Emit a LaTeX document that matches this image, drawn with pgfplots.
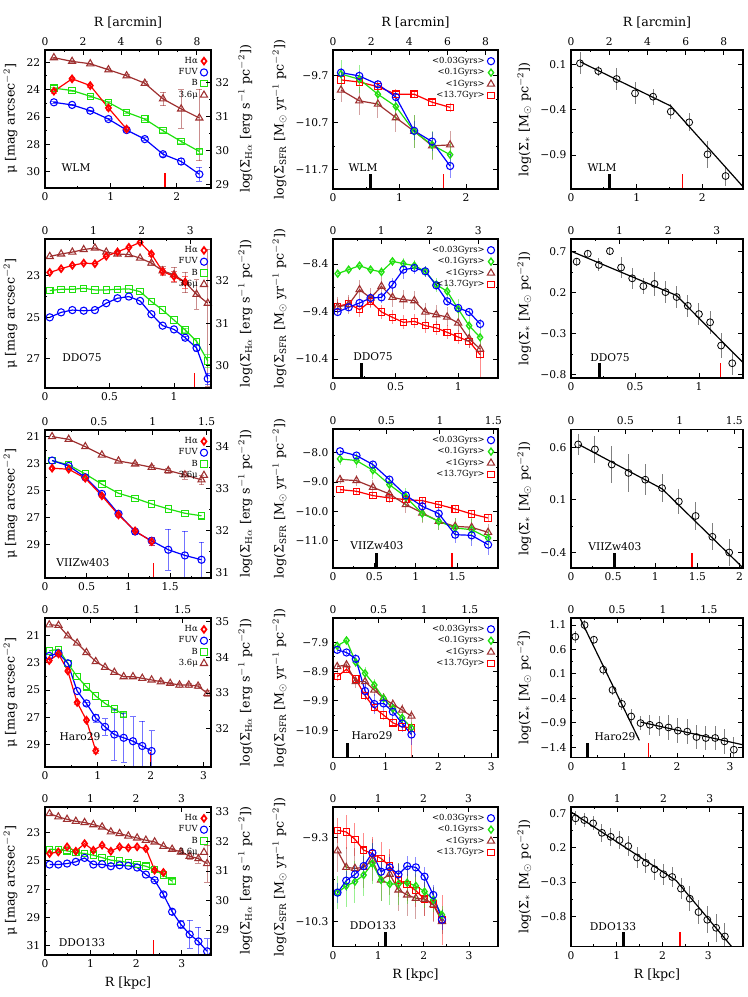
\documentclass[border=0pt]{standalone}
\usepackage{fontspec}
\setmainfont{DejaVu Serif}
\usepackage{pgfplots}
\pgfplotsset{compat=1.18}

\definecolor{cbrown}{rgb}{0.62,0.19,0.19}
\definecolor{cgreen}{rgb}{0.12,0.88,0.05}
\definecolor{cblue}{rgb}{0,0,1}
\definecolor{cred}{rgb}{1,0,0}

\pgfplotsset{
  legend image code/.code={\draw[#1] plot[only marks] coordinates {(0.1cm,0cm)};},
  base/.style={scale only axis, anchor=south west,
    font=\fontsize{8}{9}\selectfont,
    axis line style={line width=1pt},
    every tick/.style={black, line width=0.7pt},
    major tick length=3.5pt, minor tick length=1.8pt, minor tick num=1,
    label style={font=\fontsize{9.5}{11}\selectfont},
    /pgf/number format/assume math mode=true,
    /pgf/number format/fixed},
  dat/.style={base, xtick pos=left, ytick pos=both, yticklabel pos=left},
  mu/.style={base, y dir=reverse, xtick=\empty, ytick pos=left},
  ha/.style={base, xtick pos=left, ytick pos=right, yticklabel pos=right},
  arc/.style={base, xtick pos=right, xticklabel pos=right, ytick=\empty, ymin=0, ymax=1},
  leg/.style={legend style={at={(0.985,0.975)}, anchor=north east, draw=none, fill=none,
      font=\fontsize{6.3}{7}\selectfont, row sep=-1.6pt, inner sep=0.5pt},
      legend cell align=right, legend plot pos=right, reverse legend},
  eb/.style={error bars/.cd, y dir=both, y explicit,
      error bar style={line width=0.7pt, opacity=0.55},
      error mark options={rotate=90, mark size=2.2pt}},
  eb2/.style={error bars/.cd, y dir=both, y explicit,
      error bar style={line width=0.7pt, opacity=0.45}, error mark=none},
  sbr/.style={cbrown, line width=0.9pt, mark=triangle, mark size=3.1pt, mark options={solid, line width=0.8pt}},
  sgr/.style={cgreen, line width=0.9pt, mark=square, mark size=2.4pt, mark options={solid, line width=0.8pt}},
  sbl/.style={cblue, line width=0.9pt, mark=o, mark size=2.7pt, mark options={solid, line width=0.8pt}},
  srd/.style={cred, line width=0.9pt, mark=diamond, mark size=2.5pt, mark options={solid, line width=1.3pt}},
  sgd/.style={cgreen, line width=0.9pt, mark=diamond, mark size=2.6pt, mark options={solid, line width=1pt}},
  srs/.style={cred, line width=0.9pt, mark=square, mark size=2.4pt, mark options={solid, line width=0.8pt}},
  st/.style={black, only marks, mark=o, mark size=2.6pt, mark options={line width=0.6pt},
      error bars/.cd, y dir=both, y explicit, error bar style={gray, line width=0.7pt}, error mark=none},
  fit/.style={black, line width=0.9pt, mark=none},
}
\newcommand{\rtick}[2]{\draw[cred, line width=1pt] (axis cs:#1,#2) -- ++(0pt,11pt);}
\newcommand{\btick}[2]{\draw[black, line width=2.2pt] (axis cs:#1,#2) -- ++(0pt,11pt);}

\begin{document}
\begin{tikzpicture}
\useasboundingbox (0,0) rectangle (560.25pt,747.75pt);

% ================= Row 1: WLM =================
\begin{axis}[mu, leg, at={(33.75pt,606.75pt)}, width=124.5pt, height=103.5pt,
  xmin=0, xmax=2.52, ymin=21.12, ymax=31.17, ytick={22,24,26,28,30},
  ylabel={μ [mag arcsec$^{-2}$]}]
\addplot[sbr, eb] coordinates {(0.135,21.68)+-(0,0.05) (0.411,21.95)+-(0,0.05) (0.687,22.12)+-(0,0.06) (0.963,22.56)+-(0,0.08) (1.239,23.00)+-(0,0.1) (1.515,23.54)+-(0,0.12) (1.791,24.68)+-(0,0.5) (2.067,25.41)+-(0,1.4) (2.343,26.07) += (0,3.1) -= (0,2.1)};
\addlegendentry{3.6μ}
\addplot[sgr, eb] coordinates {(0.135,23.90)+-(0,0.05) (0.411,24.07)+-(0,0.05) (0.687,24.49)+-(0,0.05) (0.963,24.93)+-(0,0.05) (1.239,25.66)+-(0,0.06) (1.515,26.15)+-(0,0.07) (1.791,27.00)+-(0,0.08) (2.067,27.78)+-(0,0.1) (2.343,28.51)+-(0,0.15)};
\addlegendentry{B}
\addplot[sbl, eb] coordinates {(0.135,24.93)+-(0,0.05) (0.411,25.12)+-(0,0.05) (0.687,25.54)+-(0,0.05) (0.963,26.15)+-(0,0.06) (1.239,26.95)+-(0,0.08) (1.515,27.61)+-(0,0.1) (1.791,28.71)+-(0,0.15) (2.067,29.24)+-(0,0.2) (2.343,30.17)+-(0,0.5)};
\addlegendentry{FUV}
\addplot[srd, eb] coordinates {(0.135,24.12)+-(0,0.15) (0.411,23.22)+-(0,0.1) (0.687,23.71)+-(0,0.1) (0.963,25.34)+-(0,0.15) (1.239,26.88)+-(0,0.15)};
\addlegendentry{Hα}
\rtick{1.82}{31.17}
\end{axis}
\begin{axis}[ha, at={(33.75pt,606.75pt)}, width=124.5pt, height=103.5pt,
  xmin=0, xmax=2.52, ymin=28.91, ymax=32.97, xtick={0,1,2}, ytick={29,30,31,32},
  ylabel={log(Σ$_{\rm H\alpha}$ [erg s$^{-1}$ pc$^{-2}$])}]
\end{axis}
\begin{axis}[arc, at={(33.75pt,606.75pt)}, width=124.5pt, height=103.5pt,
  xmin=0, xmax=8.74, xtick={0,2,4,6,8}, xlabel={R [arcmin]}]
\end{axis}

\begin{axis}[dat, leg, at={(249.75pt,606pt)}, width=123.75pt, height=104.25pt,
  xmin=0, xmax=2.48, ymin=-12.11, ymax=-9.147, xtick={0,1,2},
  ytick={-11.7,-10.7,-9.7}, yticklabels={−11.7,−10.7,−9.7},
  ylabel={log(Σ$_{\rm SFR}$ [M$_\odot$ yr$^{-1}$ pc$^{-2}$])}]
\addplot[srs, eb2] coordinates {(0.12,-9.785)+-(0,0.1) (0.395,-9.83)+-(0,0.08) (0.675,-9.93)+-(0,0.1) (0.945,-10.09)+-(0,0.12) (1.22,-10.09)+-(0,0.08) (1.49,-10.26)+-(0,0.08) (1.76,-10.37)+-(0,0.1)};
\addlegendentry{<13.7Gyr>}
\addplot[sbr, eb2] coordinates {(0.12,-10.00)+-(0,0.25) (0.395,-10.23)+-(0,0.3) (0.675,-10.30)+-(0,0.3) (0.945,-10.59)+-(0,0.3) (1.22,-10.88)+-(0,0.35) (1.49,-11.19)+-(0,0.3) (1.76,-11.17)+-(0,0.3)};
\addlegendentry{<1Gyrs>}
\addplot[sgd, eb2] coordinates {(0.12,-9.66)+-(0,0.3) (0.395,-9.77)+-(0,0.3) (0.675,-10.09)+-(0,0.25) (0.945,-10.35)+-(0,0.3) (1.22,-10.88)+-(0,0.35) (1.49,-11.17)+-(0,0.3) (1.76,-11.38)+-(0,0.25)};
\addlegendentry{<0.1Gyrs>}
\addplot[sbl, eb2] coordinates {(0.12,-9.63)+-(0,0.1) (0.395,-9.70)+-(0,0.1) (0.675,-9.88)+-(0,0.1) (0.945,-10.15)+-(0,0.15) (1.22,-10.87)+-(0,0.2) (1.49,-11.10)+-(0,0.2) (1.76,-11.62)+-(0,0.25)};
\addlegendentry{<0.03Gyrs>}
\btick{0.56}{-12.11}
\rtick{1.66}{-12.11}
\end{axis}
\begin{axis}[arc, at={(249.75pt,606pt)}, width=123.75pt, height=104.25pt,
  xmin=0, xmax=8.65, xtick={0,2,4,6,8}, xlabel={R [arcmin]}]
\end{axis}

\begin{axis}[dat, at={(428.25pt,606pt)}, width=129pt, height=104.25pt,
  xmin=0, xmax=2.62, ymin=-1.275, ymax=0.258, xtick={0,1,2},
  ytick={-0.9,-0.4,0.1}, yticklabels={−0.9,−0.4,0.1},
  ylabel={log(Σ$_*$ [M$_\odot$ pc$^{-2}$])}]
\addplot[st] coordinates {(0.137,0.111)+-(0,0.12) (0.416,0.026)+-(0,0.06) (0.695,-0.062)+-(0,0.12) (0.975,-0.22)+-(0,0.12) (1.25,-0.257)+-(0,0.09) (1.52,-0.422)+-(0,0.08) (1.80,-0.54)+-(0,0.1) (2.08,-0.893)+-(0,0.15) (2.355,-1.132)+-(0,0.11)};
\addplot[fit] coordinates {(0.137,0.129) (1.52,-0.36) (2.62,-1.25)};
\btick{0.58}{-1.275}
\rtick{1.70}{-1.275}
\end{axis}
\begin{axis}[arc, at={(428.25pt,606pt)}, width=129pt, height=104.25pt,
  xmin=0, xmax=9.0, xtick={0,2,4,6,8}, xlabel={R [arcmin]}]
\end{axis}

% ================= Row 2: DDO075 =================
\begin{axis}[mu, leg, at={(33.75pt,456.75pt)}, width=124.5pt, height=111.75pt,
  xmin=0, xmax=1.287, ymin=21.23, ymax=28.4, ytick={23,25,27},
  ylabel={μ [mag arcsec$^{-2}$]}]
\addplot[sbr, eb] coordinates {(0.037,22.07) (0.125,21.95) (0.212,21.86) (0.300,21.74) (0.387,21.66) (0.475,21.86) (0.562,21.95) (0.650,21.98) (0.737,22.15) (0.825,22.39)+-(0,0.1) (0.912,22.76)+-(0,0.2) (1.000,22.95)+-(0,0.35) (1.087,23.31)+-(0,0.5) (1.175,23.89)+-(0,0.7) (1.262,24.32) += (0,4) -= (0,2.6)};
\addlegendentry{3.6μ}
\addplot[sgr, eb] coordinates {(0.037,23.71) (0.125,23.65) (0.212,23.65) (0.300,23.60) (0.387,23.68) (0.475,23.68) (0.562,23.65) (0.650,23.63) (0.737,23.76) (0.825,24.24) (0.912,24.65) (1.000,25.13) (1.087,25.61)+-(0,0.1) (1.175,26.15)+-(0,0.15) (1.262,27.10)+-(0,0.3)};
\addlegendentry{B}
\addplot[sbl, eb] coordinates {(0.037,25.00) (0.125,24.76) (0.212,24.65) (0.300,24.68) (0.387,24.65) (0.475,24.32) (0.562,24.08) (0.650,24.00) (0.737,24.21) (0.825,24.85) (0.912,25.40) (1.000,25.58) (1.087,25.98)+-(0,0.08) (1.175,26.47)+-(0,0.15) (1.262,27.95)+-(0,0.25)};
\addlegendentry{FUV}
\addplot[srd, eb] coordinates {(0.037,22.84) (0.125,22.66) (0.212,22.50) (0.300,22.39) (0.387,22.42) (0.475,22.06) (0.562,21.85) (0.650,21.63) (0.737,21.39) (0.825,21.95)+-(0,0.1) (0.912,22.79)+-(0,0.15) (1.000,23.03)+-(0,0.25) (1.087,23.31)+-(0,0.3)};
\addlegendentry{Hα}
\rtick{1.158}{28.4}
\end{axis}
\begin{axis}[ha, at={(33.75pt,456.75pt)}, width=124.5pt, height=111.75pt,
  xmin=0, xmax=1.287, ymin=29.48, ymax=32.98, xtick={0,0.5,1}, ytick={30,31,32},
  ylabel={log(Σ$_{\rm H\alpha}$ [erg s$^{-1}$ pc$^{-2}$])}]
\end{axis}
\begin{axis}[arc, at={(33.75pt,456.75pt)}, width=124.5pt, height=111.75pt,
  xmin=0, xmax=3.43, xtick={0,1,2,3}]
\end{axis}

\begin{axis}[dat, leg, at={(249.75pt,464.25pt)}, width=123.75pt, height=104.25pt,
  xmin=0, xmax=1.318, ymin=-10.8, ymax=-7.874, xtick={0,0.5,1},
  ytick={-10.4,-9.4,-8.4}, yticklabels={−10.4,−9.4,−8.4},
  ylabel={log(Σ$_{\rm SFR}$ [M$_\odot$ yr$^{-1}$ pc$^{-2}$])}]
\addplot[srs, eb2] coordinates {(0.037,-9.291)+-(0,0.15) (0.125,-9.235)+-(0,0.15) (0.212,-9.361)+-(0,0.15) (0.300,-9.186)+-(0,0.15) (0.387,-9.411)+-(0,0.15) (0.475,-9.523)+-(0,0.15) (0.562,-9.628)+-(0,0.15) (0.650,-9.607)+-(0,0.15) (0.737,-9.698)+-(0,0.15) (0.825,-9.747)+-(0,0.15) (0.912,-9.839)+-(0,0.15) (1.000,-9.937)+-(0,0.15) (1.087,-10.028)+-(0,0.15) (1.175,-10.309) += (0,0.15) -= (0,0.5)};
\addlegendentry{<13.7Gyr>}
\addplot[sbr, eb2] coordinates {(0.037,-9.305)+-(0,0.2) (0.125,-9.256)+-(0,0.2) (0.212,-8.94)+-(0,0.2) (0.300,-9.116)+-(0,0.2) (0.387,-8.87)+-(0,0.2) (0.475,-9.102)+-(0,0.2) (0.562,-9.151)+-(0,0.2) (0.650,-9.172)+-(0,0.2) (0.737,-9.411)+-(0,0.2) (0.825,-9.467)+-(0,0.2) (0.912,-9.516)+-(0,0.2) (1.000,-9.642)+-(0,0.2) (1.087,-9.972)+-(0,0.2) (1.175,-10.19)+-(0,0.2)};
\addlegendentry{<1Gyrs>}
\addplot[sgd, eb2] coordinates {(0.037,-8.604)+-(0,0.05) (0.125,-8.519)+-(0,0.05) (0.212,-8.435)+-(0,0.05) (0.300,-8.519)+-(0,0.08) (0.387,-8.568)+-(0,0.1) (0.475,-8.344)+-(0,0.1) (0.562,-8.393)+-(0,0.12) (0.650,-8.435)+-(0,0.12) (0.737,-8.554)+-(0,0.12) (0.825,-8.835)+-(0,0.15) (0.912,-8.975)+-(0,0.15) (1.000,-9.347)+-(0,0.2) (1.087,-9.698)+-(0,0.2) (1.175,-9.944)+-(0,0.2)};
\addlegendentry{<0.1Gyrs>}
\addplot[sbl, eb2] coordinates {(0.037,-9.411)+-(0,0.05) (0.125,-9.312)+-(0,0.05) (0.212,-9.221)+-(0,0.08) (0.300,-9.116)+-(0,0.1) (0.387,-9.102)+-(0,0.12) (0.475,-8.835)+-(0,0.15) (0.562,-8.519)+-(0,0.2) (0.650,-8.484)+-(0,0.12) (0.737,-8.554)+-(0,0.12) (0.825,-8.849)+-(0,0.1) (0.912,-9.186)+-(0,0.1) (1.000,-9.326)+-(0,0.08) (1.087,-9.411)+-(0,0.08) (1.175,-9.663)+-(0,0.1)};
\addlegendentry{<0.03Gyrs>}
\btick{0.225}{-10.8}
\end{axis}
\begin{axis}[arc, at={(249.75pt,464.25pt)}, width=123.75pt, height=104.25pt,
  xmin=0, xmax=3.41, xtick={0,1,2,3}]
\end{axis}

\begin{axis}[dat, at={(428.25pt,464.25pt)}, width=129pt, height=104.25pt,
  xmin=0, xmax=1.343, ymin=-0.84, ymax=0.856, xtick={0,0.5,1},
  ytick={-0.8,-0.3,0.2,0.7}, yticklabels={−0.8,−0.3,0.2,0.7},
  ylabel={log(Σ$_*$ [M$_\odot$ pc$^{-2}$])}]
\addplot[st] coordinates {(0.044,0.58)+-(0,0.05) (0.131,0.676)+-(0,0.03) (0.218,0.54)+-(0,0.08) (0.304,0.708)+-(0,0.05) (0.391,0.508)+-(0,0.13) (0.478,0.376)+-(0,0.13) (0.565,0.28)+-(0,0.1) (0.652,0.308)+-(0,0.15) (0.738,0.208)+-(0,0.13) (0.825,0.148)+-(0,0.13) (0.912,0.04)+-(0,0.13) (0.999,-0.06)+-(0,0.13) (1.086,-0.16)+-(0,0.14) (1.172,-0.444)+-(0,0.15) (1.259,-0.66)+-(0,0.14)};
\addplot[fit] coordinates {(0,0.708) (0.823,0.168) (1.343,-0.652)};
\btick{0.226}{-0.84}
\rtick{1.169}{-0.84}
\end{axis}
\begin{axis}[arc, at={(428.25pt,464.25pt)}, width=129pt, height=104.25pt,
  xmin=0, xmax=3.54, xtick={0,1,2,3}]
\end{axis}

% ================= Row 3: VIIZw403 =================
\begin{axis}[mu, leg, at={(33.75pt,314.25pt)}, width=124.5pt, height=111pt,
  xmin=0, xmax=1.99, ymin=20.51, ymax=31.46, ytick={21,23,25,27,29},
  ylabel={μ [mag arcsec$^{-2}$]}]
\addplot[sbr, eb] coordinates {(0.085,21.00) (0.284,21.20) (0.483,21.74) (0.682,22.36) (0.881,22.80) (1.080,23.02)+-(0,0.1) (1.279,23.27)+-(0,0.15) (1.478,23.51)+-(0,0.2) (1.677,23.83)+-(0,0.3) (1.876,24.20)+-(0,0.35)};
\addlegendentry{3.6μ}
\addplot[sgr, eb] coordinates {(0.085,22.77) (0.284,23.09) (0.483,23.76) (0.682,24.52) (0.881,25.19) (1.080,25.56) (1.279,25.98) (1.478,26.35) (1.677,26.67) (1.876,26.86)};
\addlegendentry{B}
\addplot[sbl, eb] coordinates {(0.085,22.77) (0.284,23.17) (0.483,24.01) (0.682,25.24) (0.881,26.71)+-(0,0.1) (1.080,28.02)+-(0,0.2) (1.279,28.71)+-(0,0.3) (1.478,29.37)+-(0,1.5) (1.677,29.79)+-(0,1.8) (1.876,30.11)+-(0,1.3)};
\addlegendentry{FUV}
\addplot[srd, eb] coordinates {(0.085,23.34)+-(0,0.1) (0.284,23.41)+-(0,0.1) (0.483,24.08)+-(0,0.1) (0.682,25.38)+-(0,0.1) (0.881,26.79)+-(0,0.15) (1.080,27.97)+-(0,0.15) (1.279,28.76)+-(0,0.3)};
\addlegendentry{Hα}
\rtick{1.30}{31.46}
\end{axis}
\begin{axis}[ha, at={(33.75pt,314.25pt)}, width=124.5pt, height=111pt,
  xmin=0, xmax=1.99, ymin=30.87, ymax=34.4, xtick={0,0.5,1,1.5,2}, ytick={31,32,33,34},
  ylabel={log(Σ$_{\rm H\alpha}$ [erg s$^{-1}$ pc$^{-2}$])}]
\end{axis}
\begin{axis}[arc, at={(33.75pt,314.25pt)}, width=124.5pt, height=111pt,
  xmin=0, xmax=1.54, xtick={0,0.5,1,1.5}]
\end{axis}

\begin{axis}[dat, leg, at={(249.75pt,321.75pt)}, width=123.75pt, height=104.25pt,
  xmin=0, xmax=1.996, ymin=-11.95, ymax=-7.18, xtick={0,0.5,1,1.5,2},
  ytick={-11,-10,-9,-8}, yticklabels={−11.0,−10.0,−9.0,−8.0},
  ylabel={log(Σ$_{\rm SFR}$ [M$_\odot$ yr$^{-1}$ pc$^{-2}$])}]
\addplot[srs, eb2] coordinates {(0.085,-9.26)+-(0,0.12) (0.284,-9.317)+-(0,0.12) (0.483,-9.466)+-(0,0.12) (0.682,-9.546)+-(0,0.12) (0.881,-9.604)+-(0,0.12) (1.080,-9.638)+-(0,0.12) (1.279,-9.775)+-(0,0.12) (1.478,-9.924)+-(0,0.12) (1.677,-10.096)+-(0,0.12) (1.876,-10.234)+-(0,0.15)};
\addlegendentry{<13.7Gyr>}
\addplot[sbr, eb2] coordinates {(0.085,-8.916)+-(0,0.15) (0.284,-8.951)+-(0,0.2) (0.483,-9.18)+-(0,0.25) (0.682,-9.409)+-(0,0.3) (0.881,-9.775)+-(0,0.3) (1.080,-10.062)+-(0,0.35) (1.279,-10.348)+-(0,0.3) (1.478,-10.52)+-(0,0.3) (1.677,-10.554)+-(0,0.3) (1.876,-10.726)+-(0,0.3)};
\addlegendentry{<1Gyrs>}
\addplot[sgd, eb2] coordinates {(0.085,-8.206)+-(0,0.2) (0.284,-8.263)+-(0,0.25) (0.483,-8.596)+-(0,0.3) (0.682,-9.088)+-(0,0.3) (0.881,-9.512)+-(0,0.3) (1.080,-10.085)+-(0,0.3) (1.279,-10.348)+-(0,0.3) (1.478,-10.577)+-(0,0.35) (1.677,-10.635)+-(0,0.4) (1.876,-10.921)+-(0,0.3)};
\addlegendentry{<0.1Gyrs>}
\addplot[sbl, eb2] coordinates {(0.085,-7.943)+-(0,0.05) (0.284,-8.092)+-(0,0.05) (0.483,-8.401)+-(0,0.08) (0.682,-8.916)+-(0,0.1) (0.881,-9.455)+-(0,0.15) (1.080,-9.833)+-(0,0.2) (1.279,-10.085)+-(0,0.25) (1.478,-10.807)+-(0,0.3) (1.677,-10.829)+-(0,0.35) (1.876,-11.15)+-(0,0.35)};
\addlegendentry{<0.03Gyrs>}
\btick{0.53}{-11.95}
\rtick{1.44}{-11.95}
\end{axis}
\begin{axis}[arc, at={(249.75pt,321.75pt)}, width=123.75pt, height=104.25pt,
  xmin=0, xmax=1.543, xtick={0,0.5,1,1.5}]
\end{axis}

\begin{axis}[dat, at={(428.25pt,321.75pt)}, width=129pt, height=104pt,
  xmin=0, xmax=2.04, ymin=-0.551, ymax=0.773, xtick={0,0.5,1,1.5,2},
  ytick={-0.4,0.1,0.6}, yticklabels={−0.4,0.1,0.6},
  ylabel={log(Σ$_*$ [M$_\odot$ pc$^{-2}$])}]
\addplot[st] coordinates {(0.085,0.629)+-(0,0.1) (0.284,0.581)+-(0,0.13) (0.483,0.437)+-(0,0.18) (0.682,0.357)+-(0,0.18) (0.881,0.292)+-(0,0.15) (1.080,0.212)+-(0,0.13) (1.279,0.084)+-(0,0.12) (1.478,-0.054)+-(0,0.13) (1.677,-0.253)+-(0,0.13) (1.876,-0.403)+-(0,0.13)};
\addplot[fit] coordinates {(0.1,0.625) (1.08,0.205) (2.04,-0.55)};
\btick{0.52}{-0.551}
\rtick{1.436}{-0.551}
\end{axis}
\begin{axis}[arc, at={(428.25pt,321.75pt)}, width=129pt, height=104pt,
  xmin=0, xmax=1.58, xtick={0,0.5,1,1.5}]
\end{axis}

% ================= Row 4: Haro29 =================
\begin{axis}[mu, leg, at={(33.75pt,172.5pt)}, width=124.5pt, height=111.75pt,
  xmin=0, xmax=3.14, ymin=19.72, ymax=30.64, ytick={21,23,25,27,29},
  ylabel={μ [mag arcsec$^{-2}$]}]
\addplot[sbr, eb] coordinates {(0.080,20.22) (0.256,20.26) (0.432,21.03) (0.608,21.56) (0.784,22.25) (0.960,22.91) (1.136,23.33) (1.312,23.70) (1.488,24.02) (1.664,24.02) (1.840,24.14) (2.016,24.26) (2.192,24.39)+-(0,0.1) (2.368,24.51)+-(0,0.1) (2.544,24.63)+-(0,0.15) (2.720,24.63)+-(0,0.15) (2.896,24.71)+-(0,0.15) (3.072,25.25)+-(0,0.2)};
\addlegendentry{3.6μ}
\addplot[sgr, eb] coordinates {(0.080,22.13) (0.256,22.01) (0.432,23.04) (0.608,24.02) (0.784,24.76) (0.960,25.44) (1.136,25.98) (1.312,26.40)+-(0,0.1) (1.488,26.79)+-(0,0.15)};
\addlegendentry{B}
\addplot[sbl, eb] coordinates {(0.080,22.50) (0.256,22.30) (0.432,23.04) (0.608,25.07) (0.784,25.98)+-(0,0.1) (0.960,27.04)+-(0,0.3) (1.136,27.70)+-(0,0.6) (1.312,28.26)+-(0,1.85) (1.488,28.50)+-(0,1.8) (1.664,28.75)+-(0,1.8) (1.840,29.10)+-(0,1.8) (2.016,29.47)+-(0,1.5)};
\addlegendentry{FUV}
\addplot[srd, eb] coordinates {(0.080,22.84)+-(0,0.1) (0.256,22.35)+-(0,0.1) (0.432,23.60)+-(0,0.1) (0.608,25.91)+-(0,0.1) (0.784,27.21)+-(0,0.15) (0.960,29.45)+-(0,0.2)};
\addlegendentry{Hα}
\rtick{1.99}{30.64}
\end{axis}
\begin{axis}[ha, at={(33.75pt,172.5pt)}, width=124.5pt, height=111.75pt,
  xmin=0, xmax=3.14, ymin=30.92, ymax=35.11, xtick={0,1,2,3}, ytick={32,33,34,35},
  ylabel={log(Σ$_{\rm H\alpha}$ [erg s$^{-1}$ pc$^{-2}$])}]
\end{axis}
\begin{axis}[arc, at={(33.75pt,172.5pt)}, width=124.5pt, height=111.75pt,
  xmin=0, xmax=1.81, xtick={0,0.5,1,1.5}]
\end{axis}

\begin{axis}[dat, leg, at={(249.75pt,179.6pt)}, width=123.75pt, height=104.6pt,
  xmin=0, xmax=3.13, ymin=-11.83, ymax=-7.08, xtick={0,1,2,3},
  ytick={-10.9,-9.9,-8.9,-7.9}, yticklabels={−10.9,−9.9,−8.9,−7.9},
  ylabel={log(Σ$_{\rm SFR}$ [M$_\odot$ yr$^{-1}$ pc$^{-2}$])}]
\addplot[srs, eb2] coordinates {(0.080,-9.074)+-(0,0.15) (0.256,-8.824)+-(0,0.1) (0.432,-9.154)+-(0,0.1) (0.608,-9.724)+-(0,0.15) (0.784,-10.135)+-(0,0.15) (0.960,-10.386)+-(0,0.15) (1.136,-10.648)+-(0,0.15) (1.312,-10.785)+-(0,0.15) (1.488,-10.819) += (0,0.2) -= (0,1.0)};
\addlegendentry{<13.7Gyr>}
\addplot[sbr, eb2] coordinates {(0.080,-8.732)+-(0,0.15) (0.256,-8.675)+-(0,0.15) (0.432,-9.245)+-(0,0.2) (0.608,-9.245)+-(0,0.2) (0.784,-9.531)+-(0,0.2) (0.960,-9.816)+-(0,0.2) (1.136,-10.021)+-(0,0.2) (1.312,-10.215)+-(0,0.2) (1.488,-10.42)+-(0,0.2)};
\addlegendentry{<1Gyrs>}
\addplot[sgd, eb2] coordinates {(0.080,-8.025)+-(0,0.1) (0.256,-7.843)+-(0,0.1) (0.432,-8.584)+-(0,0.15) (0.608,-8.96)+-(0,0.2) (0.784,-9.36)+-(0,0.2) (0.960,-9.816)+-(0,0.2) (1.136,-10.158)+-(0,0.2) (1.312,-10.477)+-(0,0.2) (1.488,-10.819)+-(0,0.2)};
\addlegendentry{<0.1Gyrs>}
\addplot[sbl, eb2] coordinates {(0.080,-8.162)+-(0,0.1) (0.256,-8.253)+-(0,0.1) (0.432,-8.47)+-(0,0.15) (0.608,-9.565)+-(0,0.3) (0.784,-10.009)+-(0,0.35) (0.960,-9.987)+-(0,0.3) (1.136,-10.272)+-(0,0.3) (1.312,-10.671)+-(0,0.3) (1.488,-11.047)+-(0,0.35)};
\addlegendentry{<0.03Gyrs>}
\btick{0.283}{-11.83}
\end{axis}
\begin{axis}[arc, at={(249.75pt,179.6pt)}, width=123.75pt, height=104.6pt,
  xmin=0, xmax=1.81, xtick={0,0.5,1,1.5}]
\end{axis}

\begin{axis}[dat, at={(428.25pt,179.6pt)}, width=129pt, height=104.6pt,
  xmin=0, xmax=3.245, ymin=-1.61, ymax=1.243, xtick={0,1,2,3},
  ytick={-1.4,-0.9,-0.4,0.1,0.6,1.1}, yticklabels={−1.4,−0.9,−0.4,0.1,0.6,1.1},
  ylabel={log(Σ$_*$ [M$_\odot$ pc$^{-2}$])}]
\addplot[st] coordinates {(0.080,0.861)+-(0,0.12) (0.256,1.10)+-(0,0.1) (0.432,0.80)+-(0,0.08) (0.608,0.187)+-(0,0.1) (0.784,-0.227)+-(0,0.1) (0.960,-0.512)+-(0,0.12) (1.136,-0.77)+-(0,0.15) (1.312,-0.906)+-(0,0.15) (1.488,-0.94)+-(0,0.2) (1.664,-0.96)+-(0,0.2) (1.840,-0.995)+-(0,0.25) (2.016,-1.06)+-(0,0.25) (2.192,-1.08)+-(0,0.25) (2.368,-1.19)+-(0,0.25) (2.544,-1.21)+-(0,0.25) (2.720,-1.21)+-(0,0.25) (2.896,-1.28)+-(0,0.25) (3.072,-1.45)+-(0,0.25)};
\addplot[fit] coordinates {(0.17,1.24) (1.29,-1.26)};
\addplot[fit] coordinates {(1.32,-0.886) (3.245,-1.35)};
\btick{0.31}{-1.61}
\rtick{1.46}{-1.61}
\end{axis}
\begin{axis}[arc, at={(428.25pt,179.6pt)}, width=129pt, height=104.6pt,
  xmin=0, xmax=1.87, xtick={0,0.5,1,1.5}]
\end{axis}

% ================= Row 5: DDO133 =================
\begin{axis}[mu, leg, at={(33.75pt,31.5pt)}, width=124.5pt, height=111pt,
  xmin=0, xmax=3.64, ymin=21.19, ymax=31.66, ytick={23,25,27,29,31},
  ylabel={μ [mag arcsec$^{-2}$]}]
\addplot[sbr, eb] coordinates {(0.100,21.66) (0.292,21.89) (0.484,22.06) (0.676,22.20) (0.868,22.29) (1.060,22.44) (1.252,22.60) (1.444,22.95) (1.636,23.07) (1.828,23.24) (2.020,23.38) (2.212,23.54) (2.404,23.66) (2.596,23.97) (2.788,24.18)+-(0,0.1) (2.980,24.37)+-(0,0.15) (3.172,24.67)+-(0,0.2) (3.364,24.84)+-(0,0.3) (3.556,25.19)+-(0,1.3)};
\addlegendentry{3.6μ}
\addplot[sgr, eb] coordinates {(0.100,24.18) (0.292,24.20) (0.484,24.29) (0.676,24.41) (0.868,24.48) (1.060,24.60) (1.252,24.77) (1.444,24.95) (1.636,25.02) (1.828,25.12) (2.020,25.24) (2.212,25.38) (2.404,25.61) (2.596,26.01)+-(0,0.1) (2.788,26.44)+-(0,0.15)};
\addlegendentry{B}
\addplot[sbl, eb] coordinates {(0.100,25.26) (0.292,25.26) (0.484,25.19) (0.676,25.07) (0.868,24.79) (1.060,25.26) (1.252,25.24) (1.444,25.38) (1.636,25.31) (1.828,25.35) (2.020,25.47) (2.212,25.97) (2.404,26.37)+-(0,0.1) (2.596,27.38)+-(0,0.15) (2.788,28.60)+-(0,0.2) (2.980,29.50)+-(0,0.3) (3.172,30.20)+-(0,1.0) (3.364,30.70)+-(0,1.0) (3.556,31.40)+-(0,0.9)};
\addlegendentry{FUV}
\addplot[srd, eb] coordinates {(0.100,24.48) (0.292,24.37) (0.484,24.01) (0.676,24.32) (0.868,23.78) (1.060,24.25) (1.252,23.89) (1.444,24.32) (1.636,24.01) (1.828,24.08) (2.020,24.01) (2.212,24.13) (2.404,25.66)+-(0,0.1) (2.596,25.82)+-(0,0.1)};
\addlegendentry{Hα}
\rtick{2.38}{31.66}
\end{axis}
\begin{axis}[ha, at={(33.75pt,31.5pt)}, width=124.5pt, height=111pt,
  xmin=0, xmax=3.64, ymin=28.155, ymax=33.17, xtick={0,1,2,3}, ytick={29,30,31,32,33},
  xlabel={R [kpc]},
  ylabel={log(Σ$_{\rm H\alpha}$ [erg s$^{-1}$ pc$^{-2}$])}]
\end{axis}
\begin{axis}[arc, at={(33.75pt,31.5pt)}, width=124.5pt, height=111pt,
  xmin=0, xmax=3.65, xtick={0,1,2,3}]
\end{axis}

\begin{axis}[dat, leg, at={(249.75pt,37.9pt)}, width=123.75pt, height=104.6pt,
  xmin=0, xmax=3.64, ymin=-10.6, ymax=-8.93, xtick={0,1,2,3},
  ytick={-10.3,-9.3}, yticklabels={−10.3,−9.3}, xlabel={R [kpc]},
  ylabel={log(Σ$_{\rm SFR}$ [M$_\odot$ yr$^{-1}$ pc$^{-2}$])}]
\addplot[srs, eb2] coordinates {(0.100,-9.209)+-(0,0.15) (0.292,-9.229)+-(0,0.2) (0.484,-9.316)+-(0,0.2) (0.676,-9.447)+-(0,0.2) (0.868,-9.487)+-(0,0.2) (1.060,-9.546)+-(0,0.2) (1.252,-9.637)+-(0,0.2) (1.444,-9.804)+-(0,0.2) (1.636,-9.856)+-(0,0.2) (1.828,-9.931)+-(0,0.2) (2.020,-10.034)+-(0,0.2) (2.212,-10.09)+-(0,0.2) (2.404,-10.28)+-(0,0.3)};
\addlegendentry{<13.7Gyr>}
\addplot[sbr, eb2] coordinates {(0.100,-9.455)+-(0,0.25) (0.292,-9.653)+-(0,0.25) (0.484,-9.665)+-(0,0.25) (0.676,-9.653)+-(0,0.25) (0.868,-9.566)+-(0,0.25) (1.060,-9.804)+-(0,0.25) (1.252,-9.737)+-(0,0.25) (1.444,-9.923)+-(0,0.25) (1.636,-9.983)+-(0,0.25) (1.828,-10.022)+-(0,0.25) (2.020,-10.034)+-(0,0.2) (2.212,-10.102)+-(0,0.2) (2.404,-10.3)+-(0,0.15)};
\addlegendentry{<1Gyrs>}
\addplot[sgd, eb2] coordinates {(0.100,-9.955)+-(0,0.2) (0.292,-9.875)+-(0,0.25) (0.484,-9.824)+-(0,0.25) (0.676,-9.744)+-(0,0.25) (0.868,-9.606)+-(0,0.25) (1.060,-9.804)+-(0,0.25) (1.252,-9.852)+-(0,0.25) (1.444,-9.852)+-(0,0.25) (1.636,-9.836)+-(0,0.25) (1.828,-9.875)+-(0,0.2) (2.020,-9.943)+-(0,0.2) (2.212,-10.042)+-(0,0.15) (2.404,-10.221)+-(0,0.1)};
\addlegendentry{<0.1Gyrs>}
\addplot[sbl, eb2] coordinates {(0.100,-9.955)+-(0,0.12) (0.292,-9.812)+-(0,0.12) (0.484,-9.737)+-(0,0.12) (0.676,-9.637)+-(0,0.12) (0.868,-9.479)+-(0,0.12) (1.060,-9.705)+-(0,0.12) (1.252,-9.653)+-(0,0.12) (1.444,-9.737)+-(0,0.12) (1.636,-9.637)+-(0,0.12) (1.828,-9.653)+-(0,0.12) (2.020,-9.764)+-(0,0.12) (2.212,-9.983)+-(0,0.12) (2.404,-10.28)+-(0,0.12)};
\addlegendentry{<0.03Gyrs>}
\btick{1.15}{-10.6}
\end{axis}
\begin{axis}[arc, at={(249.75pt,37.9pt)}, width=123.75pt, height=104.6pt,
  xmin=0, xmax=3.65, xtick={0,1,2,3}]
\end{axis}

\begin{axis}[dat, at={(428.25pt,37.9pt)}, width=129pt, height=104.6pt,
  xmin=0, xmax=3.76, ymin=-1.239, ymax=0.792, xtick={0,1,2,3},
  ytick={-0.8,-0.3,0.2,0.7}, yticklabels={−0.8,−0.3,0.2,0.7}, xlabel={R [kpc]},
  ylabel={log(Σ$_*$ [M$_\odot$ pc$^{-2}$])}]
\addplot[st] coordinates {(0.100,0.627)+-(0,0.1) (0.292,0.602)+-(0,0.1) (0.484,0.554)+-(0,0.1) (0.676,0.416)+-(0,0.13) (0.868,0.358)+-(0,0.13) (1.060,0.31)+-(0,0.13) (1.252,0.222)+-(0,0.15) (1.444,0.057)+-(0,0.15) (1.636,-0.022)+-(0,0.15) (1.828,-0.114)+-(0,0.15) (2.020,-0.187)+-(0,0.15) (2.212,-0.227)+-(0,0.15) (2.404,-0.397)+-(0,0.15) (2.596,-0.543)+-(0,0.18) (2.788,-0.738)+-(0,0.18) (2.980,-0.85)+-(0,0.2) (3.172,-0.967)+-(0,0.2) (3.364,-1.094)+-(0,0.2)};
\addplot[fit] coordinates {(0,0.72) (2.3,-0.28) (3.51,-1.239)};
\btick{1.157}{-1.239}
\rtick{2.38}{-1.239}
\end{axis}
\begin{axis}[arc, at={(428.25pt,37.9pt)}, width=129pt, height=104.6pt,
  xmin=0, xmax=3.72, xtick={0,1,2,3}]
\end{axis}

% galaxy names
\begin{scope}[font=\fontsize{8}{9}\selectfont]
\node at (57pt,621.75pt) {WLM};
\node at (272.25pt,621.75pt) {WLM};
\node at (451.5pt,621.75pt) {WLM};
\node at (61.5pt,479.25pt) {DDO75};
\node at (279.75pt,480pt) {DDO75};
\node at (457.5pt,479.25pt) {DDO75};
\node at (62.25pt,325.5pt) {VIIZw403};
\node at (282.75pt,338.25pt) {VIIZw403};
\node at (461.25pt,337.5pt) {VIIZw403};
\node at (60pt,195pt) {Haro29};
\node at (279pt,195.75pt) {Haro29};
\node at (461.25pt,195pt) {Haro29};
\node at (61.5pt,40.5pt) {DDO133};
\node at (279.75pt,53.25pt) {DDO133};
\node at (459.75pt,52.5pt) {DDO133};
\end{scope}
\end{tikzpicture}
\end{document}
